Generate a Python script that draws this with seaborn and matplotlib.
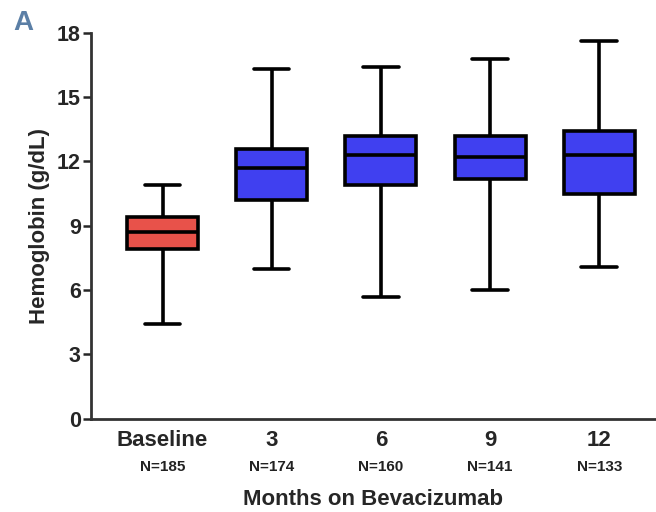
import numpy as np
import pandas as pd
import matplotlib
matplotlib.use("Agg")
import matplotlib.pyplot as plt
import seaborn as sns

# five-number summaries (min, Q1, median, Q3, max)
groups = ["Baseline", "3", "6", "9", "12"]
n_counts = ["N=185", "N=174", "N=160", "N=141", "N=133"]
hb_min = [4.4, 7.0, 5.7, 6.0, 7.1]
hb_q1 = [7.9, 10.2, 10.9, 11.2, 10.5]
hb_med = [8.7, 11.7, 12.3, 12.2, 12.3]
hb_q3 = [9.4, 12.6, 13.2, 13.2, 13.4]
hb_max = [10.9, 16.3, 16.4, 16.8, 17.6]
box_colors = ["#E8524A", "#4040F0", "#4040F0", "#4040F0", "#4040F0"]

# with 5 points per group the quartiles come out exactly as the summary
rows = []
for i, g in enumerate(groups):
    for v in (hb_min[i], hb_q1[i], hb_med[i], hb_q3[i], hb_max[i]):
        rows.append({"group": g, "hb": v})
df = pd.DataFrame(rows)

sns.set_style("ticks")
plt.rcParams["font.family"] = ["Liberation Sans", "DejaVu Sans"]
plt.rcParams["font.weight"] = "bold"

fig = plt.figure(figsize=(6.56, 5.12), dpi=100)
ax = fig.add_axes([0.138, 0.182, 0.862, 0.754])

sns.boxplot(data=df, x="group", y="hb", hue="group", palette=box_colors,
            order=groups, hue_order=groups, legend=False, whis=(0, 100),
            width=0.65, linewidth=2.6, linecolor="black", saturation=1,
            showfliers=False, ax=ax)

ax.set_ylim(0, 18)
ax.set_yticks([0, 3, 6, 9, 12, 15, 18])
ax.set_xlim(-0.66, 4.52)
sns.despine(ax=ax)
for s in ["left", "bottom"]:
    ax.spines[s].set_linewidth(2)
    ax.spines[s].set_color("#333333")
ax.tick_params(axis="y", length=6, width=1.8, labelsize=15.5, pad=1)
ax.tick_params(axis="x", length=0, labelsize=16, pad=8)
for lab in ax.get_xticklabels() + ax.get_yticklabels():
    lab.set_fontweight("bold")

for i, n in enumerate(n_counts):
    ax.text(i, -0.126, n, transform=ax.get_xaxis_transform(), ha="center",
            va="center", fontsize=11, fontweight="bold", color="#222222")

ax.set_xlabel("Months on Bevacizumab", fontsize=16, fontweight="bold")
ax.xaxis.set_label_coords(0.5, -0.183)
ax.set_ylabel("Hemoglobin (g/dL)", fontsize=16, fontweight="bold", labelpad=5)

fig.text(0.02, 0.955, "A", fontsize=20, fontweight="bold", color="#5B7FA6",
         ha="left", va="center")

fig.savefig("out.png", dpi=100)
